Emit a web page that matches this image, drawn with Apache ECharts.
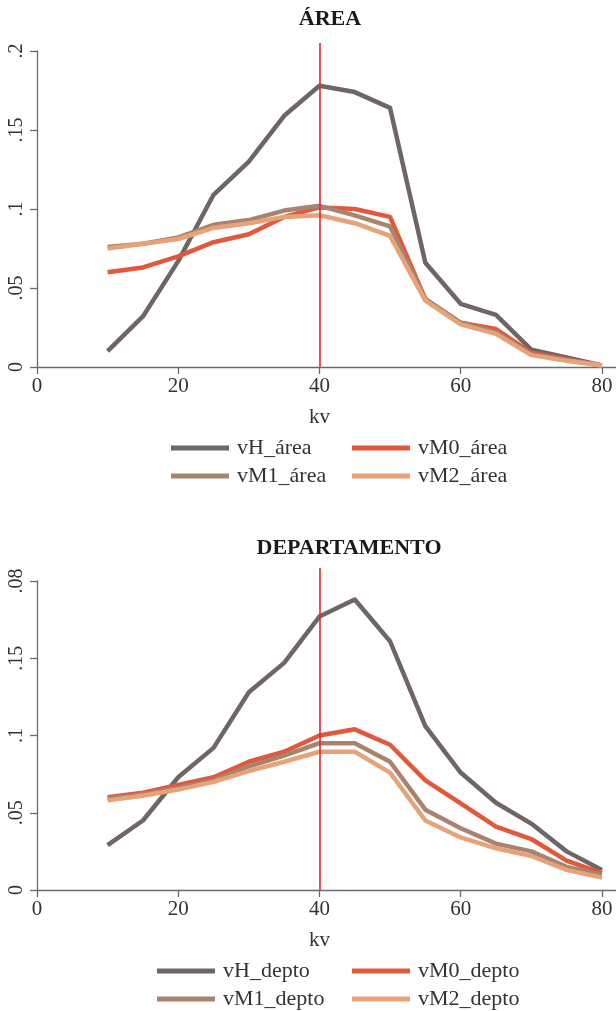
<!DOCTYPE html>
<html>
<head>
<meta charset="utf-8">
<script src="https://cdn.jsdelivr.net/npm/echarts@6.0.0/dist/echarts.min.js"></script>
<style>
  html, body { margin: 0; padding: 0; background: #fff; }
  #main { width: 616px; height: 1011px; }
</style>
</head>
<body>
<div id="main"></div>
<script>
// valores
var kv = [10, 15, 20, 25, 30, 35, 40, 45, 50, 55, 60, 65, 70, 75, 80];

var vH_area  = [0.010, 0.032, 0.067, 0.109, 0.130, 0.159, 0.178, 0.174, 0.164, 0.066, 0.040, 0.033, 0.011, 0.006, 0.001];
var vM0_area = [0.060, 0.063, 0.070, 0.079, 0.084, 0.095, 0.101, 0.100, 0.095, 0.043, 0.028, 0.024, 0.009, 0.005, 0.001];
var vM1_area = [0.076, 0.078, 0.082, 0.090, 0.093, 0.099, 0.102, 0.096, 0.089, 0.043, 0.028, 0.022, 0.008, 0.0045, 0.001];
var vM2_area = [0.075, 0.078, 0.081, 0.088, 0.091, 0.095, 0.096, 0.091, 0.083, 0.042, 0.027, 0.021, 0.0075, 0.004, 0.001];

var vH_depto  = [0.029, 0.045, 0.073, 0.092, 0.128, 0.147, 0.177, 0.188, 0.161, 0.106, 0.076, 0.0565, 0.043, 0.025, 0.013];
var vM0_depto = [0.060, 0.063, 0.068, 0.073, 0.083, 0.0895, 0.100, 0.104, 0.094, 0.071, 0.056, 0.041, 0.033, 0.019, 0.011];
var vM1_depto = [0.059, 0.062, 0.066, 0.071, 0.080, 0.087, 0.095, 0.095, 0.083, 0.052, 0.040, 0.030, 0.025, 0.015, 0.0097];
var vM2_depto = [0.058, 0.061, 0.065, 0.070, 0.077, 0.083, 0.0895, 0.0895, 0.076, 0.045, 0.034, 0.027, 0.022, 0.013, 0.008];

var namesArea  = ['vH_área', 'vM0_área', 'vM1_área', 'vM2_área'];
var namesDepto = ['vH_depto', 'vM0_depto', 'vM1_depto', 'vM2_depto'];

var xTicks = [0, 20, 40, 60, 80];
var yTickLabelsArea  = ['0', '.05', '.1', '.15', '.2'];
var yTickLabelsDepto = ['0', '.05', '.1', '.15', '.08'];
var refKv = 40;

var colors = ['#6e6665', '#e2583c', '#a88470', '#e6a278'];
var FONT = 'Liberation Serif';
var AXIS = '#6b6b6b';

function pairs(ys) {
  return kv.map(function (x, i) { return [x, ys[i]]; });
}

function dataXAxis(gridIndex) {
  return {
    gridIndex: gridIndex, type: 'value', min: 0, max: 82,
    name: 'kv', nameLocation: 'middle', nameGap: 40,
    nameTextStyle: { fontFamily: FONT, fontSize: 21, color: '#333', padding: [0, 14, 0, 0] },
    axisLine: { lineStyle: { color: AXIS, width: 1.3 } },
    axisTick: { length: 7, customValues: xTicks, lineStyle: { color: AXIS, width: 1.3 } },
    axisLabel: { customValues: xTicks, fontFamily: FONT, fontSize: 21, color: '#333', margin: 9 },
    splitLine: { show: false }
  };
}

function dataYAxis(gridIndex, labels) {
  return {
    gridIndex: gridIndex, type: 'value', min: 0, max: 0.2, interval: 0.05,
    axisLine: { show: true, lineStyle: { color: AXIS, width: 1.3 } },
    axisTick: { show: true, length: 7, lineStyle: { color: AXIS, width: 1.3 } },
    axisLabel: {
      rotate: 90, fontFamily: FONT, fontSize: 20, color: '#333', margin: 10,
      formatter: function (v) { return labels[Math.round(v / 0.05)]; }
    },
    splitLine: { show: false }
  };
}

function hiddenX(gridIndex) { return { gridIndex: gridIndex, type: 'value', min: 0, max: 82, show: false }; }
function hiddenY(gridIndex) { return { gridIndex: gridIndex, type: 'value', min: 0, max: 1, show: false }; }

function lineSeries(name, ys, i, axisIndex) {
  return {
    name: name, type: 'line', xAxisIndex: axisIndex, yAxisIndex: axisIndex,
    data: pairs(ys), showSymbol: false, symbol: 'none', smooth: false,
    color: colors[i],
    lineStyle: { color: colors[i], width: 4.5, join: 'round' },
    z: 2
  };
}

function refLine(axisIndex) {
  return {
    type: 'line', xAxisIndex: axisIndex, yAxisIndex: axisIndex, data: [], z: 5,
    markLine: {
      silent: true, symbol: ['none', 'none'], label: { show: false },
      lineStyle: { color: '#e8262d', width: 1.6, type: 'solid' },
      data: [{ xAxis: refKv }]
    }
  };
}

function legendItem(name, left, top) {
  return {
    data: [name], left: left, top: top, padding: 0, itemGap: 0,
    icon: 'rect', itemWidth: 58, itemHeight: 5,
    textStyle: { fontFamily: FONT, fontSize: 22, color: '#333', padding: [0, 0, 0, 3] }
  };
}

var chart = echarts.init(document.getElementById('main'), null, { renderer: 'canvas' });

chart.setOption({
  animation: false,
  backgroundColor: '#fff',
  title: [
    { text: 'ÁREA', left: 330, top: 8, textAlign: 'center', padding: 0,
      textStyle: { fontFamily: FONT, fontSize: 22, fontWeight: 'bold', color: '#1a1a1a' } },
    { text: 'DEPARTAMENTO', left: 349, top: 537, textAlign: 'center', padding: 0,
      textStyle: { fontFamily: FONT, fontSize: 22, fontWeight: 'bold', color: '#1a1a1a' } }
  ],
  grid: [
    { left: 37, top: 51, width: 579, height: 316 },
    { left: 37, top: 43, width: 579, height: 324 },
    { left: 37, top: 581, width: 579, height: 309 },
    { left: 37, top: 568, width: 579, height: 322 }
  ],
  xAxis: [dataXAxis(0), hiddenX(1), dataXAxis(2), hiddenX(3)],
  yAxis: [dataYAxis(0, yTickLabelsArea), hiddenY(1), dataYAxis(2, yTickLabelsDepto), hiddenY(3)],
  legend: [
    legendItem(namesArea[0], 171, 437),
    legendItem(namesArea[1], 352, 437),
    legendItem(namesArea[2], 171, 465),
    legendItem(namesArea[3], 352, 465),
    legendItem(namesDepto[0], 157, 960),
    legendItem(namesDepto[1], 352, 960),
    legendItem(namesDepto[2], 157, 988),
    legendItem(namesDepto[3], 352, 988)
  ],
  series: [
    lineSeries(namesArea[0], vH_area, 0, 0),
    lineSeries(namesArea[1], vM0_area, 1, 0),
    lineSeries(namesArea[2], vM1_area, 2, 0),
    lineSeries(namesArea[3], vM2_area, 3, 0),
    refLine(1),
    lineSeries(namesDepto[0], vH_depto, 0, 2),
    lineSeries(namesDepto[1], vM0_depto, 1, 2),
    lineSeries(namesDepto[2], vM1_depto, 2, 2),
    lineSeries(namesDepto[3], vM2_depto, 3, 2),
    refLine(3)
  ]
});
</script>
</body>
</html>
